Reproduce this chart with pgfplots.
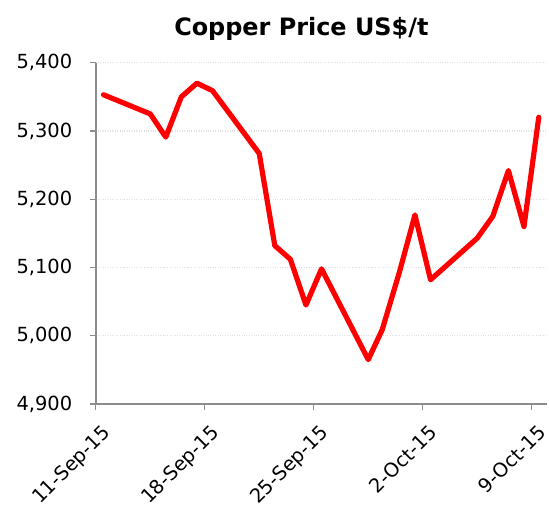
\documentclass[border=0pt]{standalone}
\usepackage{pgfplots}
\pgfplotsset{compat=1.18}
\usepackage{fontspec}
\setmainfont{DejaVu Sans}
\begin{document}
\begin{tikzpicture}[x=1bp,y=1bp]
\useasboundingbox (0,0) rectangle (549,513);
\begin{axis}[
  at={(95.7bp,109bp)},
  anchor=south west,
  scale only axis,
  width=451bp, height=341.3bp,
  xmin=0, xmax=28.96, ymin=4900, ymax=5400,
  axis x line*=bottom, axis y line*=left,
  axis line style={draw=black!45, line width=1.6bp, -},
  tick style={draw=black!45, line width=1.4bp},
  tick align=outside,
  major tick length=6bp,
  xtick={0,7,14,21,28},
  xticklabels={11-Sep-15,18-Sep-15,25-Sep-15,2-Oct-15,9-Oct-15},
  ytick={4900,5000,5100,5200,5300,5400},
  ymajorgrids,
  major grid style={draw=black!12, dotted, line width=1.2bp},
  scaled y ticks=false,
  /pgf/number format/assume math mode=true,
  /pgf/number format/1000 sep={,},
  /pgf/number format/fixed,
  ticklabel style={font=\fontsize{19.5}{22}\selectfont},
  y tick label style={xshift=-14bp},
  x tick label style={xshift=5bp, yshift=-9bp, rotate=45, anchor=north east},
  title={\textbf{Copper Price US\$/t}},
  title style={font=\fontsize{24}{28}\selectfont, anchor=base, at={(rel axis cs:0.456,1)}, yshift=21bp},
]
\addplot[draw=red, line width=5.2bp, line join=round, line cap=round] coordinates {
(0.5,5353) (3.5,5325) (4.5,5291) (5.5,5350) (6.5,5370) (7.5,5359)
(10.5,5267) (11.5,5132) (12.5,5112) (13.5,5045) (14.5,5098)
(17.5,4965) (18.4,5009) (19.5,5093) (20.5,5177) (21.5,5082)
(24.5,5143) (25.5,5175) (26.5,5242) (27.5,5160) (28.45,5320)
};
\end{axis}
\end{tikzpicture}
\end{document}
